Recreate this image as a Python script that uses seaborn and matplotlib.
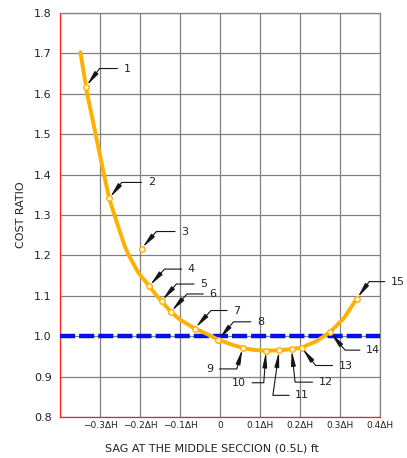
import numpy as np
import pandas as pd
import matplotlib
matplotlib.use("Agg")
import matplotlib.pyplot as plt
import seaborn as sns

# ---- data ----
curve_x = [-0.349, -0.332, -0.311, -0.290, -0.277, -0.264, -0.240, -0.228, -0.204,
           -0.177, -0.158, -0.146, -0.123, -0.100, -0.063, -0.021, -0.004, 0.030,
           0.057, 0.085, 0.115, 0.148, 0.179, 0.204, 0.240, 0.275, 0.310, 0.342]
curve_y = [1.703, 1.600, 1.500, 1.400, 1.341, 1.300, 1.228, 1.200, 1.157,
           1.124, 1.100, 1.087, 1.060, 1.041, 1.019, 1.000, 0.991, 0.979,
           0.971, 0.966, 0.964, 0.965, 0.968, 0.972, 0.987, 1.010, 1.045, 1.093]

point_labels = ["1", "2", "3", "4", "5", "6", "7", "8", "9", "10",
                "11", "12", "13", "14", "15"]
point_x = [-0.335, -0.277, -0.196, -0.177, -0.146, -0.123, -0.063, -0.004,
           0.057, 0.115, 0.148, 0.179, 0.204, 0.275, 0.342]
point_y = [1.618, 1.341, 1.217, 1.124, 1.087, 1.060, 1.019, 0.991,
           0.971, 0.964, 0.965, 0.968, 0.972, 1.010, 1.093]

reference_y = 1.0
x_ticks = [-0.4, -0.3, -0.2, -0.1, 0.0, 0.1, 0.2, 0.3, 0.4]
x_tick_labels = ["", "\u22120.3\u0394H", "\u22120.2\u0394H", "\u22120.1\u0394H", "0",
                 "0.1\u0394H", "0.2\u0394H", "0.3\u0394H", "0.4\u0394H"]
y_ticks = [0.8, 0.9, 1.0, 1.1, 1.2, 1.3, 1.4, 1.5, 1.6, 1.7, 1.8]
y_tick_labels = ["0.8", "0.9", "1.0", "1.1", "1.2", "1.3", "1.4", "1.5", "1.6", "1.7", "1.8"]

# ---- layout of leader annotations (pixel offsets of label from point, leader angle) ----
label_offsets = [(41, 18), (42, 16), (43, 17), (42, 17), (42, 17), (42, 18), (42, 18),
                 (42, 18), (-33, -21), (-27, -32), (23, -45), (34, -33), (44, -18),
                 (43, -18), (41, 17)]
leader_angles = [53, 52, 49, 48, 49, 48, 48, 50, 74, 86, 82, 96, -52, -50, 54]

sns.set_theme(style="white")
plt.rcParams["font.family"] = ["DejaVu Sans"]

fig = plt.figure(figsize=(4.07, 4.58), dpi=100)
ax = fig.add_axes([60 / 407, 1 - 417 / 458, 320 / 407, 404 / 458])

curve_df = pd.DataFrame({"x": curve_x, "y": curve_y})
pts_df = pd.DataFrame({"x": point_x, "y": point_y, "label": point_labels})

gold = "#FFB000"
ax.axhline(reference_y, color="#0010F0", lw=3.2, dashes=(3.4, 0.9), zorder=3)
sns.lineplot(data=curve_df, x="x", y="y", sort=False, color=gold, lw=2.8, ax=ax, zorder=4)
sns.scatterplot(data=pts_df, x="x", y="y", s=16, facecolor="#FFF8E0", edgecolor=gold,
                linewidth=1.0, ax=ax, zorder=5)

for lab, px, py, off, ang in zip(point_labels, point_x, point_y, label_offsets, leader_angles):
    ax.annotate(lab, xy=(px, py), xytext=off, textcoords="offset pixels",
                ha="center", va="center", fontsize=8, color="#222222", zorder=6,
                arrowprops=dict(arrowstyle="-|>,head_length=1.1,head_width=0.17",
                                connectionstyle=f"angle,angleA=0,angleB={ang},rad=0",
                                color="#151515", lw=0.8, shrinkA=2, shrinkB=1))

ax.set_xlim(-0.4, 0.4)
ax.set_ylim(0.8, 1.8)
ax.set_xticks(x_ticks)
ax.set_xticklabels(x_tick_labels, fontsize=6.5, color="#222222")
ax.set_yticks(y_ticks)
ax.set_yticklabels(y_tick_labels, fontsize=8, color="#222222")
ax.tick_params(axis="both", length=0)
ax.tick_params(axis="x", pad=3)
ax.tick_params(axis="y", pad=6)
ax.grid(True, color="#808080", lw=0.9, zorder=0)
ax.set_axisbelow(True)

for side in ["top", "right"]:
    ax.spines[side].set_color("#808080")
    ax.spines[side].set_linewidth(0.9)
for side in ["left", "bottom"]:
    ax.spines[side].set_color("#FF2020")
    ax.spines[side].set_linewidth(0.9)

ax.set_xlabel("SAG AT THE MIDDLE SECCION (0.5L) ft", fontsize=8, color="#222222")
ax.set_ylabel("COST RATIO", fontsize=8, color="#222222")
ax.xaxis.set_label_coords(0.475, -0.065)
ax.yaxis.set_label_coords(-0.105, 0.5)

fig.savefig("out.png", dpi=100)
